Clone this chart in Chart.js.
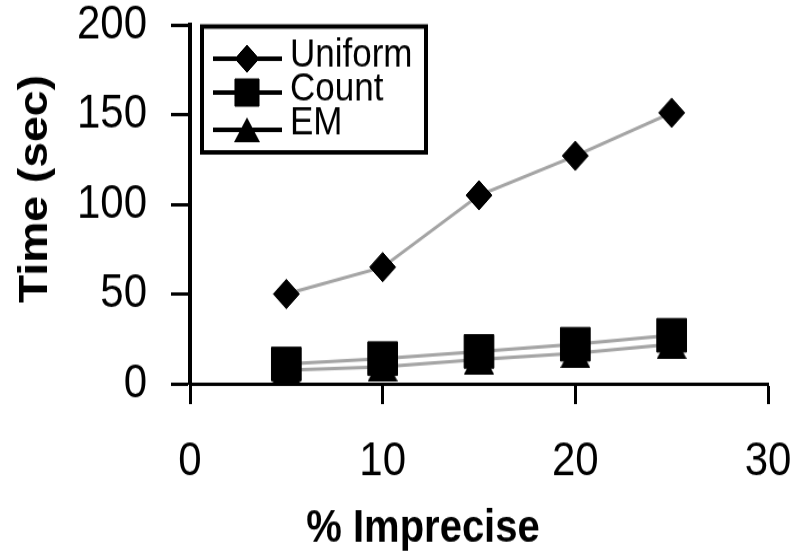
<!DOCTYPE html>
<html>
<head>
<meta charset="utf-8">
<script src="https://cdn.jsdelivr.net/npm/chart.js@4/dist/chart.umd.min.js"></script>
<style>
  html, body { margin: 0; padding: 0; background: #fff; overflow: hidden; }
  /* the source picture is stretched a bit vertically: draw at 800x490, show at 800x553 */
  #chTime { display: block; width: 800px; height: 553px; }
</style>
</head>
<body>
<canvas id="chTime" width="800" height="490" style="width:800px;height:553px"></canvas>
<script>
// x values (% imprecise)
var pctImprecise = [5, 10, 15, 20, 25];
// time (sec)
var uniformTime = [50, 65, 105, 127, 151];
var countTime = [11, 14, 18, 22, 27];
var emTime = [7.5, 9.5, 13.5, 17, 22];
var seriesNames = ['Uniform', 'Count', 'EM'];
var xTicks = [0, 10, 20, 30];
var yTicks = [0, 50, 100, 150, 200];
var xTitle = '% Imprecise';
var yTitle = 'Time (sec)';

var fontFam = '"Liberation Sans", Arial, sans-serif';
var lineGray = '#a4a4a4';

// excel style triangle, centered on its bounding box
function triangleImg(w, h) {
  var c = document.createElement('canvas');
  c.width = w; c.height = h;
  var g = c.getContext('2d');
  g.fillStyle = '#000';
  g.beginPath();
  g.moveTo(w / 2, 0);
  g.lineTo(w, h);
  g.lineTo(0, h);
  g.closePath();
  g.fill();
  return c;
}
var triBig = triangleImg(30, 26);
var triSmall = triangleImg(26, 22);

function pts(ys) {
  return pctImprecise.map(function (x, i) { return {x: x, y: ys[i]}; });
}

function series(label, ys, style, r) {
  return {
    label: label,
    data: pts(ys),
    borderColor: lineGray,
    borderWidth: 3,
    pointStyle: style,
    pointRadius: r,
    pointBackgroundColor: '#000',
    pointBorderColor: '#000',
    pointBorderWidth: 1,
    clip: false
  };
}

// legend box + axis titles, drawn on top
var decor = {
  id: 'decor',
  afterDraw: function (chart) {
    var ctx = chart.ctx;
    ctx.save();
    ctx.fillStyle = '#000';
    ctx.textAlign = 'center';
    ctx.textBaseline = 'middle';
    ctx.font = 'bold 40px ' + fontFam;
    ctx.fillText(xTitle, 423, 469);
    ctx.translate(36, 167.5);
    ctx.rotate(-Math.PI / 2);
    ctx.font = 'bold 41px ' + fontFam;
    ctx.fillText(yTitle, 0, 0);
    ctx.restore();

    // legend
    ctx.save();
    ctx.fillStyle = '#fff';
    ctx.fillRect(202, 23.5, 224, 111.5);
    ctx.strokeStyle = '#000';
    ctx.lineWidth = 4;
    ctx.strokeRect(202, 23.5, 224, 111.5);
    var lineY = [52, 82, 115];
    var textY = [49, 79, 109];
    var marks = [{style: 'rectRot', r: 12}, {style: 'rect', r: 17}, {style: triSmall, r: 12}];
    chart.data.datasets.forEach(function (ds, i) {
      ctx.strokeStyle = '#000';
      ctx.lineWidth = 4;
      ctx.beginPath();
      ctx.moveTo(213, lineY[i]);
      ctx.lineTo(282, lineY[i]);
      ctx.stroke();
      ctx.fillStyle = '#000';
      ctx.lineWidth = 1;
      Chart.helpers.drawPoint(ctx, {pointStyle: marks[i].style, radius: marks[i].r, borderWidth: 1, rotation: 0}, 247, lineY[i]);
      ctx.font = '35px ' + fontFam;
      ctx.textAlign = 'left';
      ctx.textBaseline = 'middle';
      ctx.fillText(ds.label, 290, textY[i]);
    });
    ctx.restore();
  }
};

var chTime = document.getElementById('chTime');
if (chTime) {
  new Chart(chTime, {
    type: 'line',
    data: {
      datasets: [
        series(seriesNames[0], uniformTime, 'rectRot', 13),
        series(seriesNames[1], countTime, 'rect', 21),
        series(seriesNames[2], emTime, triBig, 15)
      ]
    },
    options: {
      responsive: false,
      animation: false,
      layout: {padding: {top: 22, right: 32, left: 0, bottom: 0}},
      plugins: {legend: {display: false}, tooltip: {enabled: false}},
      scales: {
        x: {
          type: 'linear',
          position: 'bottom',
          min: xTicks[0],
          max: xTicks[xTicks.length - 1],
          ticks: {stepSize: xTicks[1] - xTicks[0], color: '#000', padding: 30,
                  font: {family: fontFam, size: 42, lineHeight: 1}},
          grid: {drawOnChartArea: false, tickLength: 18, tickWidth: 3, tickColor: '#000'},
          border: {color: '#000', width: 3},
          afterFit: function (s) { s.height = 150; s.paddingLeft = 0; s.paddingRight = 0; }
        },
        y: {
          type: 'linear',
          min: yTicks[0],
          max: yTicks[yTicks.length - 1],
          ticks: {stepSize: yTicks[1] - yTicks[0], color: '#000', padding: 24,
                  font: {family: fontFam, size: 42, lineHeight: 1}},
          grid: {drawOnChartArea: false, tickLength: 19, tickWidth: 3, tickColor: '#000'},
          border: {color: '#000', width: 4},
          afterFit: function (s) { s.width = 190; s.paddingTop = 0; s.paddingBottom = 0; }
        }
      }
    },
    plugins: [decor]
  });
}
</script>
</body>
</html>
